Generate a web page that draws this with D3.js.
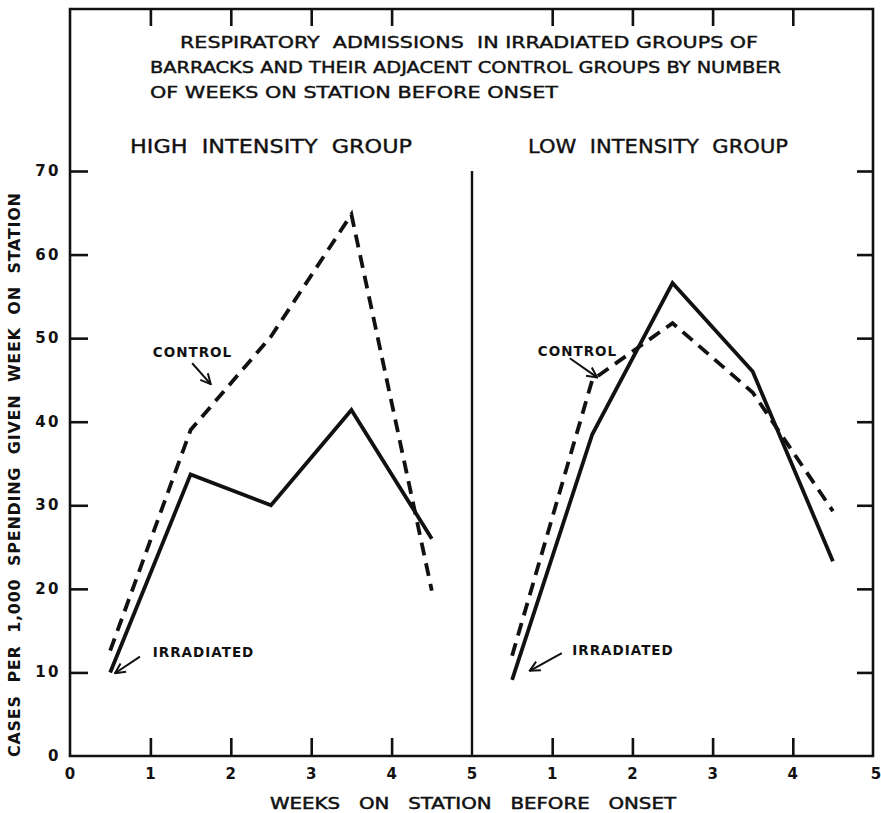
<!DOCTYPE html>
<html>
<head>
<meta charset="utf-8">
<script src="https://cdn.jsdelivr.net/npm/d3@7"></script>
<style>
    body { margin: 0; background: #fff; }
    text { font-family: 'DejaVu Sans', 'Liberation Sans', sans-serif; fill: #111; }
</style>
</head>
<body>
<script>
// values
var weeks = [0.5, 1.5, 2.5, 3.5, 4.5];
var highIrradiated = [10, 33.7, 30, 41.4, 26];
var highControl = [12.6, 39, 50.2, 64.8, 19.8];
var lowIrradiated = [9.1, 38.5, 56.6, 46, 23.3];
var lowControl = [12, 45, 51.8, 43.5, 29.3];
var yTicks = [0, 10, 20, 30, 40, 50, 60, 70];
var xTicks = [0, 1, 2, 3, 4, 5];
var titleLines = [
    'RESPIRATORY  ADMISSIONS  IN IRRADIATED GROUPS OF',
    'BARRACKS AND THEIR ADJACENT CONTROL GROUPS BY NUMBER',
    'OF WEEKS ON STATION BEFORE ONSET'
];
var panelTitles = ['HIGH  INTENSITY  GROUP', 'LOW  INTENSITY  GROUP'];
// annotation anchors in chart units
var notes = [
    { panel: 0, label: 'CONTROL',    tx: 1.03, ty: 47.7, x1: 1.52, y1: 47.0, x2: 1.75, y2: 44.5 },
    { panel: 0, label: 'IRRADIATED', tx: 1.03, ty: 11.8, x1: 0.87, y1: 11.9, x2: 0.56, y2: 9.9 },
    { panel: 1, label: 'CONTROL',    tx: 0.82, ty: 47.9, x1: 1.22, y1: 47.6, x2: 1.56, y2: 45.3 },
    { panel: 1, label: 'IRRADIATED', tx: 1.25, ty: 12.1, x1: 1.12, y1: 12.3, x2: 0.72, y2: 10.2 }
];

var Chart = function() {
    this.width = 881;
    this.height = 813;
    this.frame = { left: 70, right: 873, top: 9, bottom: 756 };
    this.createSVG();
    this.createScales();
    this.createFrame();
    this.createTicks();
    this.createTexts();
    this.createLines();
    this.createNotes();
}

Chart.prototype.createSVG = function() {
    this.svg = d3.select('body').append('svg')
        .attr('width', this.width)
        .attr('height', this.height);
    this.svg.append('rect')
        .attr('width', this.width)
        .attr('height', this.height)
        .attr('fill', '#fff');
    var defs = this.svg.append('defs');
    defs.append('marker')
        .attr('id', 'head')
        .attr('viewBox', '0 0 12 12')
        .attr('refX', 11).attr('refY', 6)
        .attr('markerWidth', 12).attr('markerHeight', 12)
        .attr('markerUnits', 'userSpaceOnUse')
        .attr('orient', 'auto')
        .append('path')
        .attr('d', 'M1,1 L11,6 L1,11')
        .attr('fill', 'none')
        .attr('stroke', '#111')
        .attr('stroke-width', 2);
}

Chart.prototype.createScales = function() {
    var f = this.frame;
    var mid = 472;
    this.x = [
        d3.scaleLinear().domain([0, 5]).range([f.left, mid]),
        d3.scaleLinear().domain([0, 5]).range([mid, f.right])
    ];
    this.y = d3.scaleLinear().domain([0, 70]).range([f.bottom, 171]);
    this.mid = mid;
}

Chart.prototype.createFrame = function() {
    var f = this.frame;
    var g = this.svg.append('g').attr('stroke', '#111').attr('fill', 'none');
    g.append('path')
        .attr('d', 'M' + f.left + ',' + f.top + 'H' + f.right + 'V' + f.bottom + 'H' + f.left + 'Z')
        .attr('stroke-width', 2.6);
    g.append('line')
        .attr('x1', this.mid).attr('x2', this.mid)
        .attr('y1', this.y(70)).attr('y2', f.bottom)
        .attr('stroke-width', 2.4);
}

Chart.prototype.createTicks = function() {
    var obj = this;
    var f = this.frame;
    var inner = [1, 2, 3, 4];

    // week ticks, top and bottom, pointing inward
    this.x.forEach(function(sx) {
        var top = d3.axisBottom(sx).tickValues(inner).tickSize(17).tickFormat('');
        obj.svg.append('g').attr('transform', 'translate(0,' + f.top + ')').call(top);
        var bottom = d3.axisTop(sx).tickValues(inner).tickSize(18).tickFormat('');
        obj.svg.append('g').attr('transform', 'translate(0,' + f.bottom + ')').call(bottom);
    });

    var left = d3.axisRight(this.y).tickValues(yTicks.slice(1)).tickSize(18).tickFormat('');
    this.svg.append('g').attr('transform', 'translate(' + f.left + ',0)').call(left);
    var right = d3.axisLeft(this.y).tickValues(yTicks.slice(1)).tickSize(16).tickFormat('');
    this.svg.append('g').attr('transform', 'translate(' + f.right + ',0)').call(right);

    this.svg.selectAll('.domain').remove();
    this.svg.selectAll('.tick line').attr('stroke', '#111').attr('stroke-width', 2.6);

    // y labels
    this.svg.append('g').selectAll('text')
        .data(yTicks)
        .enter()
            .append('text')
            .attr('x', 61)
            .attr('y', function(d) { return obj.y(d) + 5; })
            .attr('text-anchor', 'end')
            .attr('font-size', 15)
            .attr('font-weight', 'bold')
            .attr('letter-spacing', 2.5)
            .text(function(d) { return d; });

    // x labels
    var xl = [];
    xTicks.forEach(function(t) { xl.push({ p: 0, v: t }); });
    xTicks.slice(1).forEach(function(t) { xl.push({ p: 1, v: t }); });
    this.svg.append('g').selectAll('text')
        .data(xl)
        .enter()
            .append('text')
            .attr('x', function(d) { return obj.x[d.p](d.v) + (d.p === 1 && d.v === 5 ? 3 : 0); })
            .attr('y', 779)
            .attr('text-anchor', 'middle')
            .attr('font-size', 15)
            .attr('font-weight', 'bold')
            .text(function(d) { return d.v; });
}

Chart.prototype.createTexts = function() {
    var starts = [180, 150, 150];
    var lengths = [578, 631, 408];
    var baselines = [48, 73, 98];
    this.svg.append('g').selectAll('text')
        .data(titleLines)
        .enter()
            .append('text')
            .attr('x', function(d, i) { return starts[i]; })
            .attr('y', function(d, i) { return baselines[i]; })
            .attr('font-size', 15)
            .attr('stroke', '#111')
            .attr('stroke-width', 0.4)
            .attr('textLength', function(d, i) { return lengths[i]; })
            .attr('lengthAdjust', 'spacingAndGlyphs')
            .attr('xml:space', 'preserve')
            .text(function(d) { return d; });

    var px = [130, 528];
    var pw = [282, 260];
    this.svg.append('g').selectAll('text')
        .data(panelTitles)
        .enter()
            .append('text')
            .attr('x', function(d, i) { return px[i]; })
            .attr('y', 153)
            .attr('font-size', 20)
            .attr('stroke', '#111')
            .attr('stroke-width', 0.4)
            .attr('textLength', function(d, i) { return pw[i]; })
            .attr('lengthAdjust', 'spacingAndGlyphs')
            .attr('xml:space', 'preserve')
            .text(function(d) { return d; });

    this.svg.append('text')
        .attr('transform', 'translate(20,475) rotate(-90)')
        .attr('text-anchor', 'middle')
        .attr('font-size', 16)
        .attr('font-weight', 'bold')
        .attr('textLength', 564)
        .attr('lengthAdjust', 'spacing')
        .attr('xml:space', 'preserve')
        .text('CASES  PER  1,000  SPENDING  GIVEN  WEEK  ON  STATION');

    this.svg.append('text')
        .attr('x', 473)
        .attr('y', 809)
        .attr('text-anchor', 'middle')
        .attr('font-size', 16)
        .attr('stroke', '#111')
        .attr('stroke-width', 0.5)
        .attr('textLength', 406)
        .attr('lengthAdjust', 'spacingAndGlyphs')
        .attr('xml:space', 'preserve')
        .text('WEEKS   ON   STATION   BEFORE   ONSET');
}

Chart.prototype.createLines = function() {
    var obj = this;
    var series = [
        { p: 0, values: highControl, dashed: true },
        { p: 0, values: highIrradiated, dashed: false },
        { p: 1, values: lowControl, dashed: true },
        { p: 1, values: lowIrradiated, dashed: false }
    ];
    series.forEach(function(s) {
        var line = d3.line()
            .x(function(d, i) { return obj.x[s.p](weeks[i]); })
            .y(function(d) { return obj.y(d); });
        obj.svg.append('path')
            .datum(s.values)
            .attr('d', line)
            .attr('fill', 'none')
            .attr('stroke', '#111')
            .attr('stroke-width', 3.8)
            .attr('stroke-linejoin', 'miter')
            .attr('stroke-dasharray', s.dashed ? '13,8' : null);
    });
}

Chart.prototype.createNotes = function() {
    var obj = this;
    var g = this.svg.append('g');
    g.selectAll('text')
        .data(notes)
        .enter()
            .append('text')
            .attr('x', function(d) { return obj.x[d.panel](d.tx); })
            .attr('y', function(d) { return obj.y(d.ty); })
            .attr('font-size', 13.5)
            .attr('font-weight', 'bold')
            .attr('letter-spacing', 1)
            .text(function(d) { return d.label; });
    g.selectAll('line')
        .data(notes)
        .enter()
            .append('line')
            .attr('x1', function(d) { return obj.x[d.panel](d.x1); })
            .attr('y1', function(d) { return obj.y(d.y1); })
            .attr('x2', function(d) { return obj.x[d.panel](d.x2); })
            .attr('y2', function(d) { return obj.y(d.y2); })
            .attr('stroke', '#111')
            .attr('stroke-width', 2)
            .attr('marker-end', 'url(#head)');
}

new Chart();
</script>
</body>
</html>
